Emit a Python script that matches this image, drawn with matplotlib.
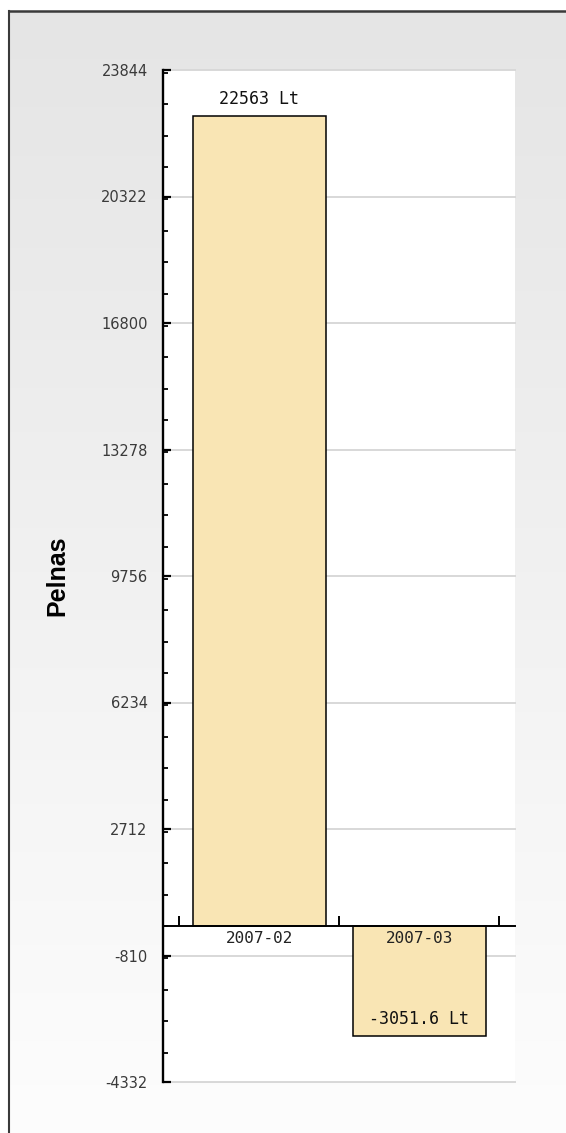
import numpy as np
import matplotlib
matplotlib.use('Agg')
import matplotlib.pyplot as plt
from matplotlib.ticker import FixedLocator, MultipleLocator, NullFormatter

# data
categories = ['2007-02', '2007-03']
values = [22563, -3051.6]
y_ticks = [-4332, -810, 2712, 6234, 9756, 13278, 16800, 20322, 23844]
y_label = 'Pelnas'
unit = 'Lt'

W, H = 566, 1133
fig = plt.figure(figsize=(W / 100, H / 100), dpi=100)
fig.patch.set_facecolor('white')

# gradient background inside the frame
bg = fig.add_axes([9 / W, 0, 1 - 9 / W, (H - 11) / H])
grad = np.linspace(0.898, 0.992, 256).reshape(-1, 1)
bg.imshow(np.dstack([grad, grad, grad]), aspect='auto', extent=[0, 1, 0, 1], origin='upper')
bg.set_axis_off()

# frame lines (top and left)
fig.add_artist(plt.Line2D([9 / W, 1], [1 - 11 / H, 1 - 11 / H], color='#3a3a3a', lw=1.8, transform=fig.transFigure))
fig.add_artist(plt.Line2D([9 / W, 9 / W], [0, 1 - 11 / H], color='#3a3a3a', lw=1.5, transform=fig.transFigure))

ax = fig.add_axes([163 / W, 51 / H, (515 - 163) / W, (1082 - 70) / H])
ax.set_facecolor('white')

x = np.arange(len(categories))
ax.bar(x, values, width=0.832, color='#f9e5b4', edgecolor='black', linewidth=1.1, zorder=3)

for xi, v in zip(x, values):
    ax.annotate('%g %s' % (v, unit), xy=(xi, v), xytext=(0, 8.5), textcoords='offset points',
                ha='center', va='baseline', fontsize=12, family='DejaVu Sans Mono', color='#111111', zorder=4)

ax.set_xlim(-0.602, 1.598)
ax.set_ylim(y_ticks[0], y_ticks[-1])

ax.yaxis.set_major_locator(FixedLocator(y_ticks))
ax.yaxis.set_minor_locator(MultipleLocator((y_ticks[1] - y_ticks[0]) / 4))
ax.set_yticklabels([str(t) for t in y_ticks])
ax.tick_params(axis='y', which='major', direction='in', length=5.5, width=1.6, color='black',
               labelsize=10.5, labelcolor='#3a3a3a', pad=11)
ax.tick_params(axis='y', which='minor', direction='in', length=3.3, width=1.3, color='black')
ax.grid(axis='y', which='major', color='#d8d8d8', lw=1.4, zorder=0)
for gl in ax.get_ygridlines():
    gl.set_clip_on(False)

# x axis at zero
ax.spines['bottom'].set_position(('data', 0))
ax.spines['bottom'].set_zorder(5)
ax.xaxis.set_zorder(6)
ax.xaxis.set_major_locator(FixedLocator(list(np.arange(len(categories) + 1) - 0.5)))
ax.xaxis.set_major_formatter(NullFormatter())
ax.xaxis.set_minor_locator(FixedLocator(list(x)))
ax.set_xticklabels(categories, minor=True)
ax.tick_params(axis='x', which='major', direction='in', length=7, width=1.4, color='black')
ax.tick_params(axis='x', which='minor', length=0, pad=3, labelsize=11.5, labelcolor='#222222')
for lbl in ax.get_xticklabels(minor=True):
    lbl.set_family('DejaVu Sans Mono')

for s in ['top', 'right']:
    ax.spines[s].set_visible(False)
ax.spines['left'].set_linewidth(1.7)
ax.spines['bottom'].set_linewidth(1.4)

ax.set_ylabel(y_label, fontsize=18, fontweight='bold', color='black', family='Liberation Sans')
ax.yaxis.set_label_coords(-0.266, 0.5)

fig.savefig('out.png', dpi=100)
